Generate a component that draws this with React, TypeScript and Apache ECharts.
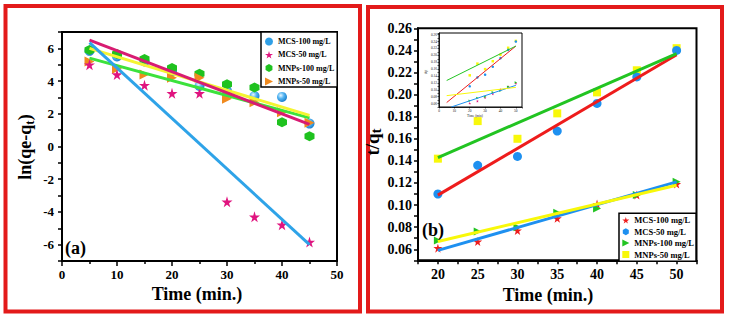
import React, { useEffect, useRef } from 'react';
import * as echarts from 'echarts';

// ---------- Panel (a): pseudo-first-order ----------
const timeA = [5, 10, 15, 20, 25, 30, 35, 40, 45];
const mcs100A = [5.85, 5.5, 5.2, 4.6, 3.7, 3.4, 3.08, 3.03, 1.4];
const mcs50A = [5.0, 4.4, 3.75, 3.25, 3.25, -3.38, -4.3, -4.78, -5.84];
const mnps100A = [5.9, 5.65, 5.35, 4.8, 4.45, 3.8, 3.6, 1.48, 0.63];
const mnps50A = [5.2, 4.75, 4.4, 4.2, 4.2, 2.92, 2.7, 2.1, 1.45];
const fitXA = [5, 45];
const fitBlueA = [6.35, -6.0];
const fitMagentaA = [6.5, 1.35];
const fitYellowA = [6.0, 1.9];
const fitGreenA = [5.4, 1.75];

// ---------- Panel (b): pseudo-second-order ----------
const timeB = [20, 25, 30, 35, 40, 45, 50];
const mcs100B = [0.061, 0.067, 0.077, 0.088, 0.101, 0.109, 0.119];
const mcs50B = [0.11, 0.136, 0.144, 0.167, 0.192, 0.216, 0.24];
const mnps100B = [0.068, 0.076, 0.08, 0.093, 0.097, 0.109, 0.121];
const mnps50B = [0.142, 0.176, 0.16, 0.183, 0.202, 0.222, 0.242];
const fitXB = [20, 50];
const fitRedB = [0.109, 0.236];
const fitGreenB = [0.143, 0.237];
const fitBlueB = [0.059, 0.121];
const fitYellowB = [0.067, 0.118];

// ---------- Inset ----------
const fitXInset = [5, 50];
const fitXInsetBlue = [8, 50];
const insetRed = [0.063, 0.227];
const insetGreen = [0.127, 0.227];
const insetBlue = [0.05, 0.113];
const insetYellow = [0.083, 0.107];

const legendNames = ['MCS-100 mg/L', 'MCS-50 mg/L', 'MNPs-100 mg/L', 'MNPs-50 mg/L'];

const FONT = "'Liberation Serif', 'Times New Roman', serif";
const STAR = 'path://M50,0 L61,35 L98,35 L68,57 L79,91 L50,70 L21,91 L32,57 L2,35 L39,35 Z';
const HEX = 'path://M50,0 L93,25 L93,75 L50,100 L7,75 L7,25 Z';
const TRI_R = 'path://M0,0 L100,50 L0,100 Z';

const zip = (xs: number[], ys: number[]) => xs.map((x, i) => [x, ys[i]]);

const sphere = {
  type: 'radial', x: 0.38, y: 0.35, r: 0.7,
  colorStops: [
    { offset: 0, color: '#e6f6ff' },
    { offset: 0.45, color: '#55b5f2' },
    { offset: 1, color: '#1479c8' },
  ],
};

const C = {
  blueA: '#2f9fe6', magenta: '#e0147f', greenA: '#1fc21f', orange: '#f08a1e',
  lineBlueA: '#2ea3e8', lineMagenta: '#d81b72', lineYellow: '#f4f432', lineGreen: '#3ce23c',
  red: '#ee1c1c', blueB: '#1e90f0', greenB: '#22c422', yellowB: '#f8f80a',
};

export default function App() {
  const ref = useRef<HTMLDivElement>(null);
  useEffect(() => {
    if (!ref.current) return;
    const chart = echarts.init(ref.current, undefined, { renderer: 'svg' });

    const labelStyle = (size: number) => ({ fontFamily: FONT, fontWeight: 'bold', fontSize: size, color: '#000' });
    const axisLine = { show: true, onZero: false, lineStyle: { color: '#000', width: 2 } };
    const tick = (len: number) => ({ show: true, length: len, lineStyle: { color: '#000', width: 1.5 } });

    const fitLine = (name: string, xi: number, yi: number, xs: number[], ys: number[], color: string, width = 3) => ({
      name, type: 'line', xAxisIndex: xi, yAxisIndex: yi, data: zip(xs, ys), symbol: 'none',
      lineStyle: { color, width }, silent: true, z: 3,
    });
    const scat = (name: string, xi: number, yi: number, xs: number[], ys: number[], symbol: string, size: number, color: any, rotate = 0) => ({
      name, type: 'scatter', xAxisIndex: xi, yAxisIndex: yi, data: zip(xs, ys), symbol, symbolSize: size,
      symbolRotate: rotate, itemStyle: { color, opacity: 1 }, z: 2,
    });

    const option: any = {
      animation: false,
      backgroundColor: '#fff',
      grid: [
        { left: 62, top: 32, width: 275, height: 229, show: true, borderColor: '#000', borderWidth: 2 },
        { left: 418, top: 28.3, width: 278.5, height: 232, show: true, borderColor: '#000', borderWidth: 2 },
        { left: 439, top: 33, width: 83, height: 74, show: true, borderColor: '#000', borderWidth: 1, backgroundColor: '#fff', z: 4 },
      ],
      xAxis: [
        {
          gridIndex: 0, type: 'value', min: 0, max: 50, interval: 10,
          axisLine, axisTick: tick(5),
          minorTick: { show: true, splitNumber: 2, length: 3, lineStyle: { color: '#000', width: 1.5 } },
          axisLabel: { ...labelStyle(13), margin: 7 }, splitLine: { show: false },
        },
        {
          gridIndex: 1, type: 'value', min: 17.5, max: 52.5, interval: 2.5,
          axisLine, axisTick: tick(4),
          axisLabel: {
            ...labelStyle(14), margin: 7,
            formatter: (v: number) => (Math.abs(v % 5) < 1e-6 ? String(v) : ''),
          },
          splitLine: { show: false },
        },
        {
          gridIndex: 2, type: 'value', min: 0, max: 54, interval: 10, z: 5,
          axisLine: { show: true, onZero: false, lineStyle: { color: '#000', width: 0.8 } },
          axisTick: { show: true, length: 1.5, lineStyle: { color: '#000', width: 0.6 } },
          axisLabel: { fontFamily: FONT, fontSize: 3.5, color: '#222', margin: 2,
            formatter: (v: number) => (v % 10 === 0 && v <= 50 ? String(v) : '') },
          splitLine: { show: false },
        },
      ],
      yAxis: [
        {
          gridIndex: 0, type: 'value', min: -7, max: 7, interval: 1,
          axisLine, axisTick: tick(4),
          axisLabel: {
            ...labelStyle(13), margin: 8,
            formatter: (v: number) => (Math.round(v) % 2 === 0 ? String(Math.round(v)) : ''),
          },
          splitLine: { show: false },
        },
        {
          gridIndex: 1, type: 'value', min: 0.05, max: 0.26, interval: 0.01,
          axisLine, axisTick: tick(4),
          axisLabel: {
            ...labelStyle(14), margin: 6,
            formatter: (v: number) => {
              const k = Math.round(v * 100);
              return k % 2 === 0 ? (k / 100).toFixed(2) : '';
            },
          },
          splitLine: { show: false },
        },
        {
          gridIndex: 2, type: 'value', min: 0.05, max: 0.265, interval: 0.01, z: 5,
          axisLine: { show: true, onZero: false, lineStyle: { color: '#000', width: 0.8 } },
          axisTick: { show: true, length: 1.5, lineStyle: { color: '#000', width: 0.6 } },
          axisLabel: {
            fontFamily: FONT, fontSize: 3.5, color: '#222', margin: 2,
            formatter: (v: number) => {
              const k = Math.round(v * 100);
              return k % 2 === 0 ? (k / 100).toFixed(2) : '';
            },
          },
          splitLine: { show: false },
        },
      ],
      legend: [
        {
          orient: 'vertical', left: 261, top: 32,
          padding: [5.5, 3, 1.5, 4], itemGap: 5.3, itemWidth: 8, itemHeight: 8,
          borderColor: '#000', borderWidth: 1.5, backgroundColor: '#fff',
          textStyle: { fontFamily: FONT, fontWeight: 'bold', fontSize: 8, color: '#000' },
          selectedMode: false,
          data: [
            { name: legendNames[0], icon: 'circle', itemStyle: { color: C.blueA } },
            { name: legendNames[1], icon: STAR, itemStyle: { color: C.magenta } },
            { name: legendNames[2], icon: HEX, itemStyle: { color: C.greenA } },
            { name: legendNames[3], icon: TRI_R, itemStyle: { color: C.orange } },
          ],
          z: 6,
        },
        {
          orient: 'vertical', left: 619, top: 213.3,
          padding: [2.5, 2, 2.3, 3.3], itemGap: 2.4, itemWidth: 7, itemHeight: 7,
          borderColor: '#000', borderWidth: 1.5, backgroundColor: '#fff',
          textStyle: { fontFamily: FONT, fontWeight: 'bold', fontSize: 8.5, color: '#000' },
          selectedMode: false,
          data: [
            { name: legendNames[0], icon: STAR, itemStyle: { color: C.red } },
            { name: legendNames[1], icon: HEX, itemStyle: { color: C.blueB } },
            { name: legendNames[2], icon: TRI_R, itemStyle: { color: C.greenB } },
            { name: legendNames[3], icon: 'rect', itemStyle: { color: C.yellowB } },
          ],
          z: 6,
        },
      ],
      series: [
        // panel (a) points
        scat(legendNames[0], 0, 0, timeA, mcs100A, 'circle', 10, sphere),
        scat(legendNames[2], 0, 0, timeA, mnps100A, HEX, 10, C.greenA),
        scat(legendNames[3], 0, 0, timeA, mnps50A, TRI_R, 10, C.orange),
        scat(legendNames[1], 0, 0, timeA, mcs50A, STAR, 11, C.magenta),
        // panel (a) fits
        fitLine('fitA-green', 0, 0, fitXA, fitGreenA, C.lineGreen),
        fitLine('fitA-yellow', 0, 0, fitXA, fitYellowA, C.lineYellow),
        fitLine('fitA-magenta', 0, 0, fitXA, fitMagentaA, C.lineMagenta),
        fitLine('fitA-blue', 0, 0, fitXA, fitBlueA, C.lineBlueA),
        // panel (b) points
        scat(legendNames[3], 1, 1, timeB, mnps50B, 'rect', 8, C.yellowB),
        scat(legendNames[1], 1, 1, timeB, mcs50B, 'circle', 9, C.blueB),
        scat(legendNames[0], 1, 1, timeB, mcs100B, STAR, 9, C.red),
        scat(legendNames[2], 1, 1, timeB, mnps100B, TRI_R, 8, C.greenB),
        // panel (b) fits
        fitLine('fitB-red', 1, 1, fitXB, fitRedB, C.red),
        fitLine('fitB-green', 1, 1, fitXB, fitGreenB, C.greenB),
        fitLine('fitB-blue', 1, 1, fitXB, fitBlueB, C.blueB),
        fitLine('fitB-yellow', 1, 1, fitXB, fitYellowB, C.yellowB),
        // inset
        { ...scat(legendNames[3], 2, 2, timeB, mnps50B, 'rect', 2.5, C.yellowB), z: 5 },
        { ...scat(legendNames[1], 2, 2, timeB, mcs50B, 'circle', 2.5, C.blueB), z: 5 },
        { ...scat(legendNames[0], 2, 2, timeB, mcs100B, STAR, 2.8, C.magenta), z: 5 },
        { ...scat(legendNames[2], 2, 2, timeB, mnps100B, TRI_R, 2.5, C.greenB), z: 5 },
        { ...fitLine('fitI-red', 2, 2, fitXInset, insetRed, C.red, 1), z: 6 },
        { ...fitLine('fitI-green', 2, 2, fitXInset, insetGreen, C.greenB, 1), z: 6 },
        { ...fitLine('fitI-blue', 2, 2, fitXInsetBlue, insetBlue, C.blueB, 1), z: 6 },
        { ...fitLine('fitI-yellow', 2, 2, fitXInset, insetYellow, C.yellowB, 1), z: 6 },
      ],
      graphic: [
        { type: 'rect', shape: { x: 5.5, y: 6, width: 354.5, height: 305.5 }, style: { fill: 'none', stroke: '#e31a1a', lineWidth: 4 }, z: 10 },
        { type: 'rect', shape: { x: 368, y: 7, width: 354, height: 304.5 }, style: { fill: 'none', stroke: '#e31a1a', lineWidth: 4 }, z: 10 },
        {
          type: 'text', x: 25, y: 147, rotation: Math.PI / 2, z: 10,
          style: {
            text: '{a|ln(qe-q}{b|t}{a|)}', align: 'center', verticalAlign: 'middle',
            rich: {
              a: { fontFamily: FONT, fontWeight: 'bold', fontSize: 18, fill: '#000', lineHeight: 22, verticalAlign: 'middle' },
              b: { fontFamily: FONT, fontWeight: 'bold', fontSize: 13, fill: '#000', lineHeight: 13, verticalAlign: 'bottom' },
            },
          },
        },
        {
          type: 'text', x: 372, y: 142, rotation: Math.PI / 2, z: 10,
          style: {
            text: '{a|t/q}{b|t}', align: 'center', verticalAlign: 'middle',
            rich: {
              a: { fontFamily: FONT, fontWeight: 'bold', fontSize: 19, fill: '#000', lineHeight: 22, verticalAlign: 'middle' },
              b: { fontFamily: FONT, fontWeight: 'bold', fontSize: 15, fill: '#000', lineHeight: 17, verticalAlign: 'bottom' },
            },
          },
        },
        { type: 'text', x: 197, y: 294, z: 10, style: { text: 'Time (min.)', font: `bold 18px ${FONT}`, fill: '#000', align: 'center', verticalAlign: 'middle' } },
        { type: 'text', x: 548, y: 295, z: 10, style: { text: 'Time (min.)', font: `bold 18px ${FONT}`, fill: '#000', align: 'center', verticalAlign: 'middle' } },
        { type: 'text', x: 65, y: 248, z: 10, style: { text: '(a)', font: `bold 18px ${FONT}`, fill: '#000', align: 'left', verticalAlign: 'middle' } },
        { type: 'text', x: 422, y: 230, z: 10, style: { text: '(b)', font: `bold 18px ${FONT}`, fill: '#000', align: 'left', verticalAlign: 'middle' } },
        // inset titles
        { type: 'text', x: 475, y: 116, z: 10, style: { text: 'Time (min)', font: `3.5px ${FONT}`, fill: '#222', align: 'center', verticalAlign: 'middle' } },
        { type: 'text', x: 425.5, y: 72, rotation: Math.PI / 2, z: 10, style: { text: 't/qt', font: `3.5px ${FONT}`, fill: '#222', align: 'center', verticalAlign: 'middle' } },
        // inset legend
        {
          type: 'group', left: 445, top: 33.5, z: 10,
          children: [
            { type: 'rect', shape: { x: 0, y: 0, width: 22, height: 16.5 }, style: { fill: '#fff', stroke: '#000', lineWidth: 0.5 } },
            { type: 'circle', shape: { cx: 2.2, cy: 2.4, r: 1.1 }, style: { fill: C.magenta } },
            { type: 'circle', shape: { cx: 2.2, cy: 6.3, r: 1.1 }, style: { fill: C.blueB } },
            { type: 'circle', shape: { cx: 2.2, cy: 10.2, r: 1.1 }, style: { fill: C.greenB } },
            { type: 'circle', shape: { cx: 2.2, cy: 14.1, r: 1.1 }, style: { fill: C.yellowB } },
            { type: 'text', x: 4.5, y: 2.4, style: { text: legendNames[0], font: `3px ${FONT}`, fill: '#222', verticalAlign: 'middle' } },
            { type: 'text', x: 4.5, y: 6.3, style: { text: legendNames[1], font: `3px ${FONT}`, fill: '#222', verticalAlign: 'middle' } },
            { type: 'text', x: 4.5, y: 10.2, style: { text: legendNames[2], font: `3px ${FONT}`, fill: '#222', verticalAlign: 'middle' } },
            { type: 'text', x: 4.5, y: 14.1, style: { text: legendNames[3], font: `3px ${FONT}`, fill: '#222', verticalAlign: 'middle' } },
          ],
        },
      ],
    };

    chart.setOption(option);
    return () => chart.dispose();
  }, []);

  return (
    <div
      ref={ref}
      style={{ position: 'fixed', left: 0, top: 0, width: 731, height: 319, background: '#fff' }}
    />
  );
}
